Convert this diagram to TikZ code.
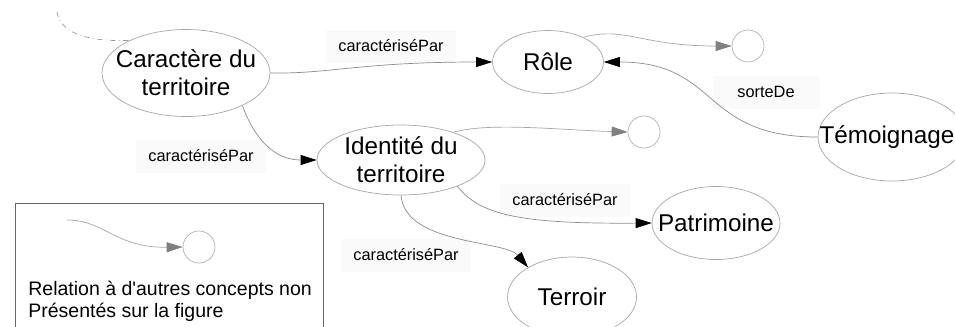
\documentclass[tikz,border=0pt]{standalone}
\usepackage{fontspec}
\setmainfont{Liberation Sans}
\usetikzlibrary{arrows.meta,shapes.geometric}
\tikzset{
  Cpt/.style={draw=black!35, ellipse, inner sep=0pt},
  Ctxt/.style={font=\fontsize{13.8}{16}\selectfont, align=center, inner sep=0pt},
  Ext/.style={draw=black!30, circle, minimum size=0.64cm, inner sep=0pt},
  Lbl/.style={fill=black!2, font=\fontsize{9.3}{11}\selectfont,
              minimum width=2.14cm, minimum height=0.66cm, inner xsep=0.25cm},
  Rarr/.style={draw=black!45, -{Triangle[length=0.32cm,width=0.2cm,color=black]}},
  Garr/.style={draw=black!35, -{Triangle[length=0.32cm,width=0.2cm,color=black!50]}}
}

\begin{document}
\begin{tikzpicture}[x=0.02cm, y=-0.02cm]
  \useasboundingbox (0,0) rectangle (955,326);
  % concepts
  \node[Cpt, minimum width=3.36cm, minimum height=1.74cm,
        label={[Ctxt]center:Caractère du\\territoire}] (car) at (186,73) {};
  \node[Cpt, minimum width=2.22cm, minimum height=1.26cm,
        label={[Ctxt]center:Rôle}] (role) at (548,62) {};
  \node[Cpt, minimum width=2.96cm, minimum height=1.76cm,
        label={[Ctxt, xshift=-0.1cm]center:Témoignage}] (tem) at (892,137) {};
  \node[Cpt, minimum width=3.36cm, minimum height=1.40cm,
        label={[Ctxt]center:Identité du\\territoire}] (ide) at (401,160) {};
  \node[Cpt, minimum width=2.56cm, minimum height=1.46cm,
        label={[Ctxt]center:Patrimoine}] (pat) at (716,223) {};
  \node[Cpt, minimum width=2.58cm, minimum height=1.60cm,
        label={[Ctxt]center:Terroir}] (ter) at (572,297) {};
  \node[Ext] (extA) at (748,46) {};
  \node[Ext] (extB) at (644,132) {};

  % relation labels
  \node[Lbl] (lCR) at (391,46) {caractériséPar};
  \node[Lbl] (lTR) at (766,92) {sorteDe};
  \node[Lbl] (lCI) at (201,156) {caractériséPar};
  \node[Lbl] (lIP) at (565,200) {caractériséPar};
  \node[Lbl] (lIT) at (406,255) {caractériséPar};

  % relations
  \coordinate (dashS) at (57,12);
  \draw[black!40, dash dot] (dashS) .. controls (60,32) and (85,42) .. (car.150);
  \draw[Rarr] (car.east) .. controls (330,74) and (360,62) .. (role.west);
  \draw[Garr] (role.35) .. controls (625,26) and (640,46) .. (extA.west);
  \draw[Rarr] (tem.west) .. controls (700,137) and (720,62) .. (role.east);
  \draw[Rarr] (car.-30) .. controls (255,140) and (275,160) .. (ide.west);
  \draw[Garr] (ide.28) .. controls (490,122) and (560,130) .. (extB.west);
  \draw[Rarr] (ide.-25) .. controls (480,215) and (520,224) .. (pat.west);
  \draw[Rarr] (ide.south) .. controls (405,245) and (505,240) .. (ter.146);

  % legend
  \node[draw=black!60, line width=0.6pt, minimum width=6.16cm, minimum height=2.8cm,
        anchor=north west, inner sep=0pt] (leg) at (15,203) {};
  \node[Ext] (extL) at (199,247) {};
  \coordinate (legS) at (67,220);
  \draw[Garr] (legS) .. controls (105,220) and (115,248) .. (extL.west);
  \node[font=\fontsize{11.1}{12.5}\selectfont, align=left, anchor=north west,
        inner sep=0pt] (legT) at (28,281)
        {Relation à d\textquotesingle autres concepts non\\Présentés sur la figure};
\end{tikzpicture}
\end{document}
